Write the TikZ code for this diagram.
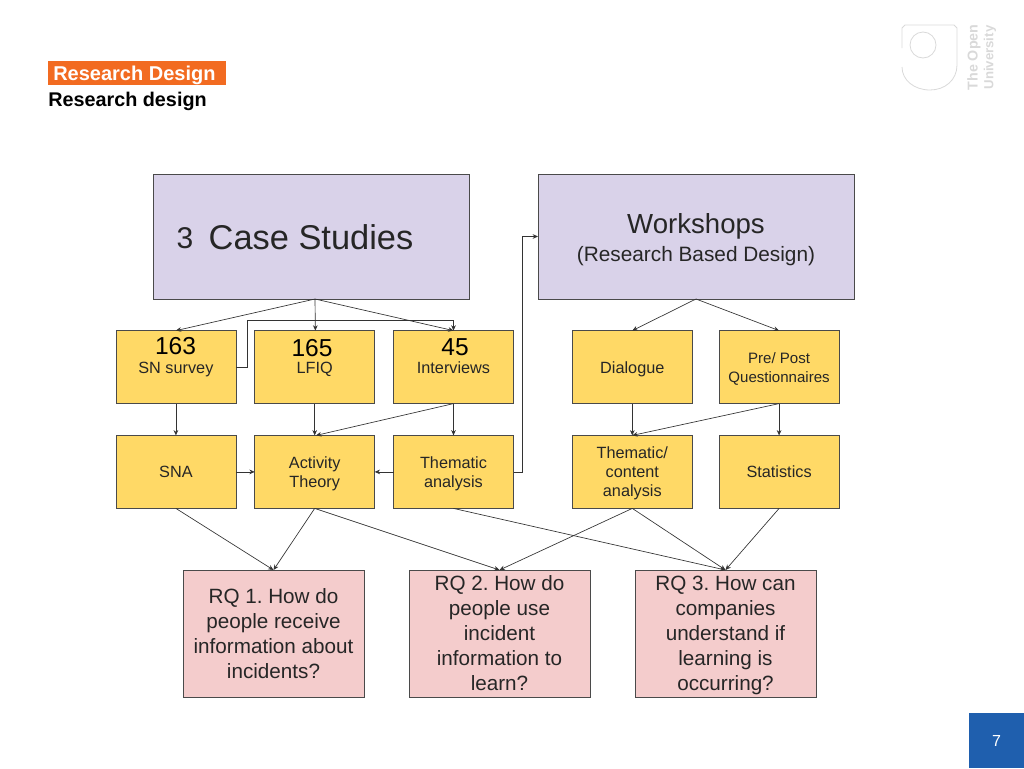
\documentclass[tikz,border=0pt]{standalone}
\usepackage{fontspec}
\setmainfont{Liberation Sans}
\usepackage{tikz}
\usetikzlibrary{matrix,arrows.meta}
\definecolor{lilacfill}{HTML}{D9D2E9}
\definecolor{yellowfill}{HTML}{FFD966}
\definecolor{pinkfill}{HTML}{F4CCCC}
\definecolor{boxline}{HTML}{4A4A4A}
\definecolor{logogrey}{HTML}{D9D9D9}
\definecolor{headorange}{HTML}{F26B21}
\definecolor{pageblue}{HTML}{1F5FAE}
\tikzset{
  bigbox/.style={draw=boxline, line width=.6pt, fill=lilacfill, outer sep=0pt, minimum width=237pt, minimum height=93.75pt},
  methodbox/.style={draw=boxline, line width=.6pt, fill=yellowfill, outer sep=0pt, minimum width=90pt, minimum height=54.75pt, inner sep=1pt, align=center, text depth=0pt, text=black!85, font=\fontsize{12.2}{14.25}\selectfont},
  oneline/.style={text height=9pt},
  countlabel/.style={inner sep=0pt, font=\fontsize{18.4}{20}\selectfont},
  rqbox/.style={draw=boxline, line width=.6pt, fill=pinkfill, outer sep=0pt, minimum width=135.75pt, minimum height=95.25pt, inner sep=1pt, align=center, text depth=0pt, text=black!85, font=\fontsize{15.5}{18.75}\selectfont\frenchspacing},
  link/.style={color=black!80, line width=.5pt, -{Stealth[length=4pt,width=3.5pt]}}
}
\begin{document}
\begin{tikzpicture}[x=.75pt, y=-.75pt]
  \useasboundingbox (0,0) rectangle (1024,768);
  % header
  \node (hbar) [fill=headorange, minimum width=133.5pt, minimum height=18pt, inner sep=0pt] at (137,73) {};
  \node (htitle) [anchor=west, inner sep=0pt, text=white, font=\fontsize{15}{18}\selectfont\bfseries] at (53,75) {Research Design};
  \node (hsub) [anchor=west, inner sep=0pt, font=\fontsize{14.85}{18}\selectfont\bfseries] at (48,101) {Research design};
  % logo
  \draw[logogrey, line width=.6pt] (902,48) -- (902,28) -- (905,25) -- (954,25) -- (957,28) -- (957,65) .. controls (957,80) and (945,90) .. (930,90) .. controls (914,90) and (902,80) .. (902,67);
  \draw[logogrey, line width=.6pt] (923,45) circle (13);
  \node (logoa) [rotate=90, inner sep=0pt, text=logogrey, font=\fontsize{10.7}{13}\selectfont\bfseries] at (974,57.5) {The Open};
  \node (logob) [rotate=90, inner sep=0pt, text=logogrey, font=\fontsize{9.9}{13}\selectfont\bfseries] at (990,57.5) {University};
  % page number
  \node (pagebox) [fill=pageblue, minimum width=41.25pt, minimum height=41.25pt, inner sep=0pt, text=white, font=\fontsize{12}{14}\selectfont] at (996.5,740.5) {7};
  % top boxes
  \node (cases) [bigbox] at (311,236.5) {};
  \node (casestext) [inner sep=0pt, text=black!85, font=\fontsize{25.8}{30}\selectfont] at (311,237) {Case Studies};
  \node (casesnum) [inner sep=0pt, text=black!85, font=\fontsize{22.5}{26}\selectfont] at (185,238) {3};
  \node (work) [bigbox] at (696,236.5) {};
  \node (worktext) [inner sep=0pt, align=center, text depth=0pt, text=black!85, font=\fontsize{15.6}{20}\selectfont] at (696,237.5) {{\fontsize{20.7}{26}\selectfont Workshops}\\[1pt](Research Based Design)};
  % methods
  \matrix (m) [row sep=23.25pt, column sep=13.5pt, inner sep=0pt, nodes={methodbox}] at (477.5,419.5)
  {
 \node[oneline] (sn) {SN survey}; & \node[oneline] (lfiq) {LFIQ}; & \node[oneline] (iv) {Interviews}; &[30pt] \node[oneline] (dlg) {Dialogue}; &[6pt] \node[font=\fontsize{11.3}{14.25}\selectfont] (pre) {Pre/ Post\\Questionnaires}; \\
 \node[oneline] (sna) {SNA}; & \node (act) {Activity\\Theory}; & \node (them) {Thematic\\analysis}; &[30pt] \node (tca) {Thematic/\\content\\analysis}; &[6pt] \node[oneline] (stat) {Statistics}; \\
  };
  \node (n1) [countlabel] at (175.5,346) {163};
  \node (n2) [countlabel] at (312,348.5) {165};
  \node (n3) [countlabel] at (455,347) {45};
  % research questions
  \node (r1) [rqbox] at (273.5,633.5) {RQ 1. How do\\people receive\\information about\\incidents?};
  \node (r2) [rqbox] at (499.5,633.5) {RQ 2. How do\\people use\\incident\\information to\\learn?};
  \node (r3) [rqbox] at (725.5,633.5) {RQ 3. How can\\companies\\understand if\\learning is\\occurring?};
  % connectors
  \path[link]
  ([xshift=3pt]cases.south) edge (sn.north)
  ([xshift=3pt]cases.south) edge ([xshift=.5pt]lfiq.north)
  ([xshift=3pt]cases.south) edge (iv.north)
  (sn.south) edge (sna.north)
  (lfiq.south) edge (act.north)
  (iv.south) edge (them.north)
  (iv.south) edge ([xshift=1pt]act.north)
  (sna.east) edge (act.west)
  (them.west) edge (act.east)
  (work.south) edge (dlg.north)
  (work.south) edge (pre.north)
  (dlg.south) edge (tca.north)
  (pre.south) edge (stat.north)
  (pre.south) edge (tca.north)
  (sna.south) edge (r1.north)
  (act.south) edge (r1.north)
  (act.south) edge (r2.north)
  (them.south) edge (r3.north)
  (tca.south) edge (r2.north)
  (tca.south) edge (r3.north)
  (stat.south) edge (r3.north)
  ;
  \draw[link] (sn.east) -- ++(8.25pt,0) |- ([yshift=7.5pt]iv.north) -- (iv.north);
  \draw[link] (them.east) -- ++(6.75pt,0) |- (work.west);
\end{tikzpicture}
\end{document}
